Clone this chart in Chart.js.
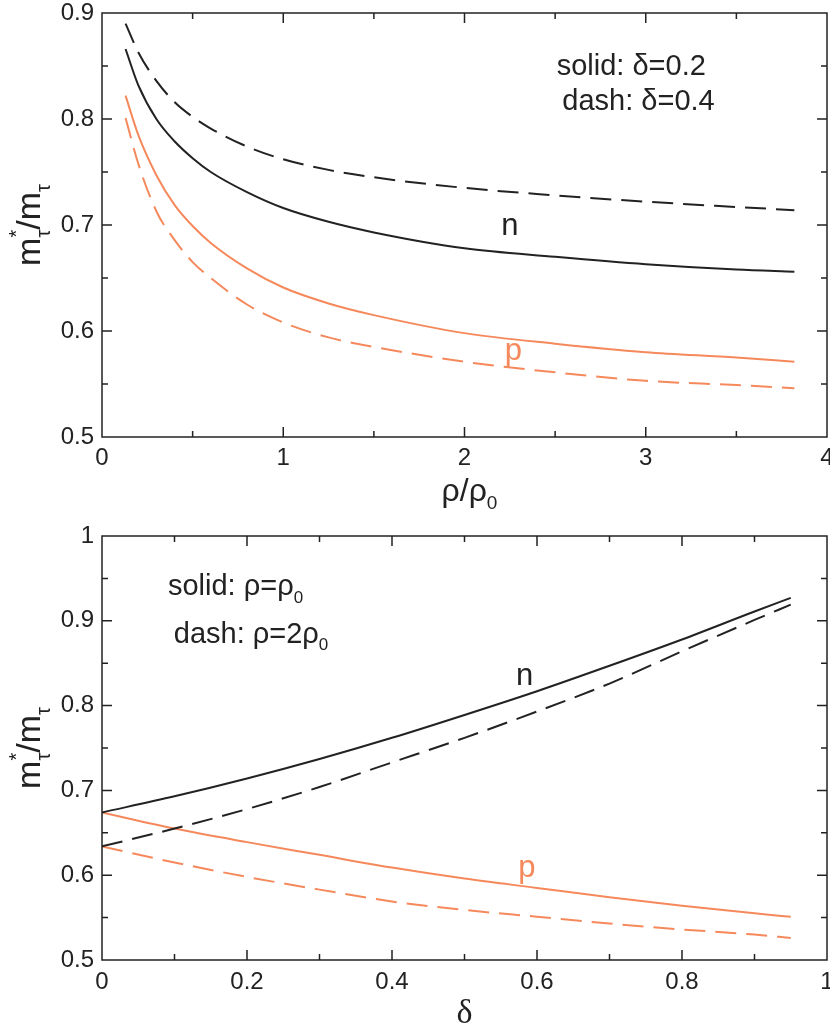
<!DOCTYPE html>
<html>
<head>
<meta charset="utf-8">
<script src="https://cdn.jsdelivr.net/npm/chart.js@4.4.1/dist/chart.umd.min.js"></script>
<style>
  html, body { margin: 0; padding: 0; background: #fff; }
  #wrap { position: relative; width: 830px; height: 1031px; }
  .box { position: absolute; left: 0; width: 830px; }
  #top { top: 0; height: 520px; }
  #bottom { top: 520px; height: 511px; }
</style>
</head>
<body>
<div id="wrap">
  <div class="box" id="top"><canvas id="rhoChart"></canvas></div>
  <div class="box" id="bottom"><canvas id="deltaChart"></canvas></div>
</div>
<script>
// upper panel: effective mass ratio vs density
const rhoRatio   = [0.13, 0.2, 0.3, 0.4, 0.5, 0.6, 0.8, 1.0, 1.25, 1.5, 2.0, 2.5, 3.0, 3.5, 3.82];
const nDelta02   = [0.866, 0.832, 0.800, 0.779, 0.763, 0.750, 0.731, 0.716, 0.703, 0.693, 0.678, 0.670, 0.663, 0.658, 0.656];
const nDelta04   = [0.890, 0.863, 0.836, 0.816, 0.802, 0.791, 0.774, 0.762, 0.752, 0.745, 0.735, 0.728, 0.722, 0.717, 0.714];
const pDelta02   = [0.822, 0.785, 0.747, 0.719, 0.699, 0.683, 0.659, 0.641, 0.626, 0.615, 0.598, 0.588, 0.580, 0.575, 0.571];
const pDelta04   = [0.801, 0.758, 0.713, 0.686, 0.665, 0.650, 0.625, 0.608, 0.594, 0.585, 0.571, 0.561, 0.553, 0.549, 0.546];
const rhoTicks   = [0, 1, 2, 3, 4];
const topYTicks  = [0.5, 0.6, 0.7, 0.8, 0.9];

// lower panel: effective mass ratio vs isospin asymmetry
const delta      = [0, 0.1, 0.2, 0.3, 0.4, 0.5, 0.6, 0.7, 0.8, 0.9, 0.95];
const nRho1      = [0.674, 0.693, 0.714, 0.737, 0.762, 0.789, 0.817, 0.847, 0.878, 0.911, 0.927];
const nRho2      = [0.634, 0.655, 0.678, 0.704, 0.733, 0.762, 0.793, 0.826, 0.864, 0.901, 0.919];
const pRho1      = [0.674, 0.655, 0.639, 0.624, 0.609, 0.596, 0.585, 0.574, 0.564, 0.555, 0.551];
const pRho2      = [0.634, 0.615, 0.598, 0.583, 0.569, 0.559, 0.551, 0.543, 0.536, 0.530, 0.526];
const deltaTicks = [0, 0.2, 0.4, 0.6, 0.8, 1];
const botYTicks  = [0.5, 0.6, 0.7, 0.8, 0.9, 1];

const INK = '#222222';
const ORANGE = '#F5895C';
const SANS = '"Liberation Sans", Arial, Helvetica, sans-serif';
const SERIF = '"Liberation Serif", "Times New Roman", serif';
const DASH = [21, 10];

const pts = (xs, ys) => xs.map((x, i) => ({ x: x, y: ys[i] }));

function line(data, color, dashed) {
  return {
    data: data,
    borderColor: color,
    borderWidth: 2,
    borderDash: dashed ? DASH : [],
    pointRadius: 0,
    fill: false,
    cubicInterpolationMode: 'monotone'
  };
}

// text with sub/superscripts; parts: {t, s (size factor), dy (em shift), stack}
function drawRich(ctx, parts, x, y, size, family, color, align) {
  const widths = parts.map(p => {
    ctx.font = Math.round(size * (p.s || 1)) + 'px ' + (p.family || family);
    return ctx.measureText(p.t).width;
  });
  let total = 0, pend = 0;
  parts.forEach((p, i) => {
    if (p.stack) { pend = Math.max(pend, widths[i]); return; }
    total += Math.max(pend, widths[i]); pend = 0;
  });
  let cx = align === 'center' ? x - total / 2 : x;
  pend = 0;
  ctx.fillStyle = color;
  ctx.textAlign = 'left';
  ctx.textBaseline = 'alphabetic';
  parts.forEach((p, i) => {
    ctx.font = Math.round(size * (p.s || 1)) + 'px ' + (p.family || family);
    ctx.fillText(p.t, cx, y + (p.dy || 0) * size);
    if (p.stack) { pend = Math.max(pend, widths[i]); return; }
    cx += Math.max(pend, widths[i]); pend = 0;
  });
}

// boxed frame with inward major/minor ticks on all four sides
const frame = {
  id: 'frame',
  afterDraw(chart, args, opts) {
    const { ctx, chartArea: a, scales } = chart;
    ctx.save();
    ctx.strokeStyle = INK;
    ctx.lineWidth = 1.5;
    ctx.strokeRect(a.left, a.top, a.right - a.left, a.bottom - a.top);
    const marks = (scale, step, minor, horiz) => {
      const n = Math.round((scale.max - scale.min) / minor);
      for (let i = 1; i < n; i++) {
        const v = scale.min + i * minor;
        const major = Math.abs(v / step - Math.round(v / step)) < 1e-6;
        const len = major ? 10 : 6;
        const p = scale.getPixelForValue(v);
        ctx.beginPath();
        if (horiz) {
          ctx.moveTo(p, a.bottom); ctx.lineTo(p, a.bottom - len);
          ctx.moveTo(p, a.top); ctx.lineTo(p, a.top + len);
        } else {
          ctx.moveTo(a.left, p); ctx.lineTo(a.left + len, p);
          ctx.moveTo(a.right, p); ctx.lineTo(a.right - len, p);
        }
        ctx.stroke();
      }
    };
    marks(scales.x, opts.xStep, opts.xMinor, true);
    marks(scales.y, opts.yStep, opts.yMinor, false);

    // axis titles
    const yt = opts.yTitle;
    ctx.save();
    ctx.translate(yt.x, (a.top + a.bottom) / 2 + yt.shift);
    ctx.rotate(-Math.PI / 2);
    drawRich(ctx, yt.parts, 0, 0, yt.size, SANS, INK, 'center');
    ctx.restore();
    const xt = opts.xTitle;
    drawRich(ctx, xt.parts, (a.left + a.right) / 2 + xt.shift, xt.y, xt.size, xt.family || SANS, INK, 'center');

    // notes placed in data coordinates
    opts.notes.forEach(n => {
      drawRich(ctx, n.parts, scales.x.getPixelForValue(n.x), scales.y.getPixelForValue(n.y),
        n.size, SANS, n.color || INK, n.align || 'left');
    });
    ctx.restore();
  }
};

function axes(xMin, xMax, xTicks, yMin, yMax, yTicks, xHeight, xPad) {
  const fmt = v => String(+v.toFixed(1));
  return {
    x: {
      type: 'linear', min: xMin, max: xMax,
      afterBuildTicks: s => { s.ticks = xTicks.map(v => ({ value: v })); },
      afterFit: s => { s.height = xHeight; s.paddingLeft = 0; s.paddingRight = 0; },
      grid: { display: false, drawTicks: false },
      border: { display: false },
      ticks: { color: INK, padding: xPad, maxRotation: 0, font: { family: SANS, size: 24 }, callback: fmt }
    },
    y: {
      type: 'linear', min: yMin, max: yMax,
      afterBuildTicks: s => { s.ticks = yTicks.map(v => ({ value: v })); },
      afterFit: s => { s.width = 102; s.paddingTop = 0; s.paddingBottom = 0; },
      grid: { display: false, drawTicks: false },
      border: { display: false },
      ticks: { color: INK, padding: 8, font: { family: SANS, size: 24 }, callback: fmt }
    }
  };
}

const massTitle = [
  { t: 'm' },
  { t: '*', s: 0.6, dy: -0.5, stack: true },
  { t: 'τ', s: 0.6, dy: 0.28 },
  { t: '/' },
  { t: 'm' },
  { t: 'τ', s: 0.6, dy: 0.28 }
];

const base = {
  responsive: true,
  maintainAspectRatio: false,
  animation: false,
  events: [],
  plugins: { legend: { display: false }, tooltip: { enabled: false } }
};

new Chart(document.getElementById('rhoChart'), {
  type: 'line',
  data: {
    datasets: [
      line(pts(rhoRatio, nDelta02), INK, false),
      line(pts(rhoRatio, nDelta04), INK, true),
      line(pts(rhoRatio, pDelta02), ORANGE, false),
      line(pts(rhoRatio, pDelta04), ORANGE, true)
    ]
  },
  options: {
    ...base,
    layout: { padding: { top: 13, right: 3, left: 0, bottom: 0 } },
    scales: axes(0, 4, rhoTicks, 0.5, 0.9, topYTicks, 83, 7),
    plugins: {
      ...base.plugins,
      frame: {
        xStep: 1, xMinor: 0.5, yStep: 0.1, yMinor: 0.05,
        yTitle: { x: 40, shift: 0, size: 34, parts: massTitle },
        xTitle: { y: 501, shift: 5, size: 32, parts: [{ t: 'ρ' }, { t: '/' }, { t: 'ρ' }, { t: '0', s: 0.6, dy: 0.25 }] },
        notes: [
          { x: 2.92, y: 0.8415, size: 29, align: 'center', parts: [{ t: 'solid: δ=0.2' }] },
          { x: 2.96, y: 0.8085, size: 29, align: 'center', parts: [{ t: 'dash: δ=0.4' }] },
          { x: 2.25, y: 0.6906, size: 31, align: 'center', parts: [{ t: 'n' }] },
          { x: 2.27, y: 0.5726, size: 31, align: 'center', color: ORANGE, parts: [{ t: 'p' }] }
        ]
      }
    }
  },
  plugins: [frame]
});

new Chart(document.getElementById('deltaChart'), {
  type: 'line',
  data: {
    datasets: [
      line(pts(delta, nRho1), INK, false),
      line(pts(delta, nRho2), INK, true),
      line(pts(delta, pRho1), ORANGE, false),
      line(pts(delta, pRho2), ORANGE, true)
    ]
  },
  options: {
    ...base,
    layout: { padding: { top: 16, right: 3, left: 0, bottom: 0 } },
    scales: axes(0, 1, deltaTicks, 0.5, 1, botYTicks, 71, 8),
    plugins: {
      ...base.plugins,
      frame: {
        xStep: 0.2, xMinor: 0.1, yStep: 0.1, yMinor: 0.05,
        yTitle: { x: 40, shift: 0, size: 34, parts: massTitle },
        xTitle: { y: 503, shift: 0, size: 34, family: SERIF, parts: [{ t: 'δ' }] },
        notes: [
          { x: 0.091, y: 0.930, size: 29, parts: [{ t: 'solid: ρ=ρ' }, { t: '0', s: 0.6, dy: 0.25 }] },
          { x: 0.099, y: 0.874, size: 29, parts: [{ t: 'dash: ρ=2ρ' }, { t: '0', s: 0.6, dy: 0.25 }] },
          { x: 0.583, y: 0.824, size: 31, align: 'center', parts: [{ t: 'n' }] },
          { x: 0.586, y: 0.598, size: 31, align: 'center', color: ORANGE, parts: [{ t: 'p' }] }
        ]
      }
    }
  },
  plugins: [frame]
});
</script>
</body>
</html>
